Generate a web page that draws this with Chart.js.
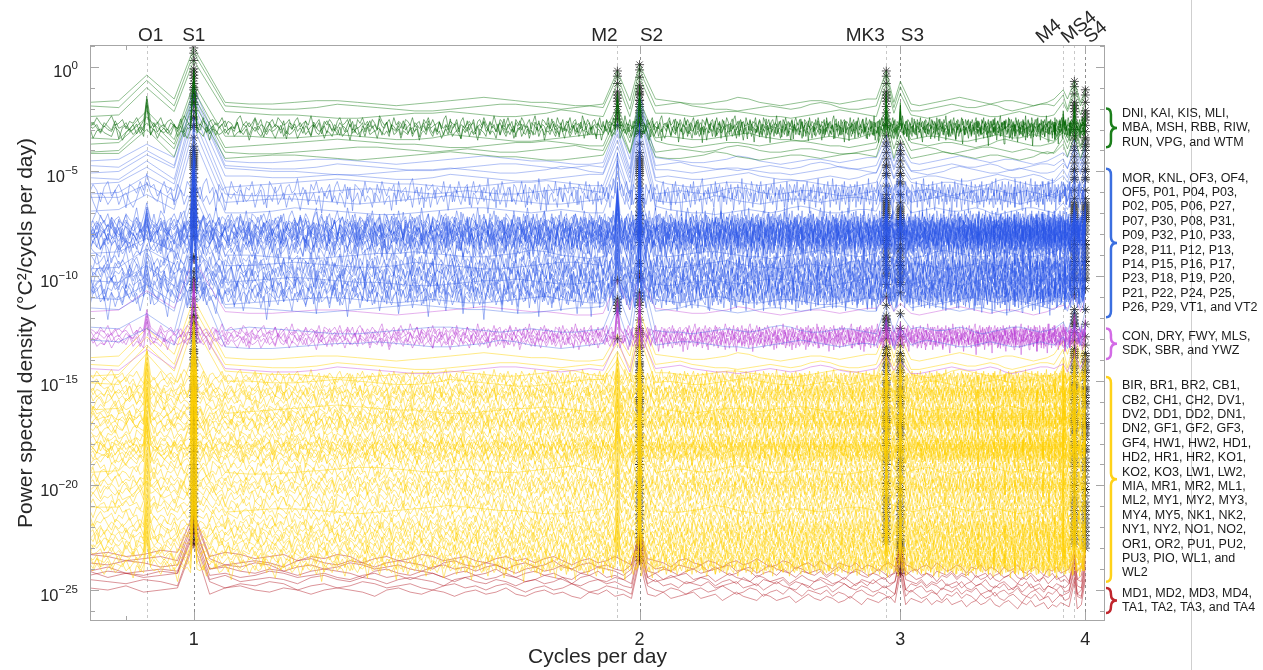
<!DOCTYPE html>
<html lang="en">
<head>
<meta charset="UTF-8">
<title>Power spectral density by station group</title>
<script src="https://cdn.jsdelivr.net/npm/chart.js"></script>
<style>
  html, body { margin: 0; padding: 0; background: #fff; }
  #wrap { width: 1263px; height: 670px; }
</style>
</head>
<body>
<div id="wrap"><canvas id="psdChart" width="1263" height="670"></canvas></div>
<script>
// Tidal constituents marked along the top (cycles per day)
const TIDE_NAMES = ['O1', 'S1', 'M2', 'S2', 'MK3', 'S3', 'M4', 'MS4', 'S4'];
const TIDE_FREQ = [0.9295, 1.0, 1.9323, 2.0, 2.9353, 3.0, 3.8645, 3.9323, 4.0];

const X_TICKS = [1, 2, 3, 4];
const Y_TICK_EXP = [0, -5, -10, -15, -20, -25];

// Station spectrum levels, log10 of PSD away from the peaks
const GREEN_SMOOTH = [-1.7, -1.95, -2.3, -3.4, -3.7, -4.0, -4.3];
const GREEN_NOISY = [-2.7, -2.85, -3.0, -3.15];
const BLUE_SMOOTH = [-4.5, -4.8, -5.0, -5.3, -5.6, -6.0, -6.4, -6.9, -9.0, -9.5, -10.3, -11.2, -11.6, -12.6, -13.3];
const BLUE_NOISY = [-5.9, -6.3, -7.3, -7.5, -7.6, -7.7, -7.8, -7.9, -8.0, -8.1, -8.2, -8.3, -8.4, -8.6, -8.8,
                    -9.3, -9.5, -9.7, -9.9, -10.1, -10.3, -10.5, -10.7, -10.9, -11.1];
const MAGENTA_SMOOTH = [-11.7, -14.5];
const MAGENTA_NOISY = [-12.6, -12.75, -12.9, -13.05, -13.2];
const YELLOW_SMOOTH = [-13.9, -14.3, -14.7, -15.1, -16.4, -19.3, -21.2];
const YELLOW_NOISY = [-14.8, -15.0, -15.3, -15.5, -15.6, -15.8, -16.0,
                      -16.3, -16.5, -16.7, -16.8, -17.0, -17.1, -17.3,
                      -17.6, -17.8, -18.0, -18.1, -18.2, -18.3, -18.5, -18.6, -18.8,
                      -19.1, -19.4, -19.7, -19.9, -20.1, -20.3, -20.6,
                      -20.9, -21.2, -21.5, -21.8, -22.0, -22.2, -22.4, -22.6,
                      -22.8, -23.0, -23.2, -23.4, -23.6, -23.8, -24.0];
const RED_LEVELS = [-23.3, -23.5, -23.7, -23.9, -24.1, -24.3, -24.6, -24.8];

// Peak height above the station level (decades) at each constituent; null = no peak
const GREEN_PEAKS = [1.3, 2.6, 1.5, 1.8, 1.5, 1.0, 0.6, 1.0, 0.6];
const BLUE_PEAKS = [0.8, 3.5, 1.8, 3.2, 1.2, 0.8, 0.4, 1.0, 1.0];
const MAGENTA_PEAKS = [1.0, 2.5, 1.5, 1.8, 0.7, 0.4, 0.3, 0.8, 0.6];
const YELLOW_PEAKS = [1.4, 2.8, 1.1, 2.2, 1.3, 1.0, 0.8, 1.2, 1.0];
const RED_PEAKS = [null, 2.0, null, 1.2, null, 0.6, null, 0.2, 0.3];

// Constituents flagged as significant (asterisks)
const GREEN_STARRED = ['S1', 'M2', 'S2', 'MK3', 'MS4', 'S4'];
const BLUE_STARRED = ['S1', 'S2', 'MK3', 'S3', 'MS4', 'S4'];
const MAGENTA_STARRED = ['S1', 'M2', 'S2', 'MK3', 'MS4'];
const YELLOW_STARRED = ['S1', 'S2', 'MK3', 'S3', 'MS4', 'S4'];
const RED_STARRED = ['S1', 'S2', 'S3'];

// Spectral wiggle around the level, tenths of a decade
const SMOOTH_A = [0,1,2,2,1,0,-1,-1,0,1, 1,0,-1,-2,-1,0,1,2,3,2, 1,0,0,-1,-2,-2,-1,0,1,1, 2,1,0,-1,-1,0,1,3,2,0,
  -1,-2,-1,0,1,1,0,-1,0,1, 2,2,1,0,-1,-1,-2,-1,0,1, 2,3,2,1,0,-1,0,1,1,0, -1,-2,-1,0,2,3,2,1,0,-1,
  -1,0,1,2,1,0,-1,-1,0,1, 2,1,0,-1,-2,-1,0,1,1,0];
const SMOOTH_B = [1,0,-1,-2,-1,0,1,1,0,0, 1,2,1,0,-1,-1,0,2,1,0, -1,-2,-2,-1,0,1,2,2,1,0, -1,0,1,0,-1,-1,0,1,2,3,
  1,0,-1,-1,-2,-1,0,1,0,-1, 0,2,3,2,0,-1,-1,0,1,1, 0,-1,-2,-2,-1,0,1,2,1,0, 0,1,2,1,-1,-2,-1,0,1,2,
  2,1,0,-1,0,1,0,-1,-2,-1, 0,1,2,1,0,-1,0,1,1,0];
const NOISE_A = [2,-1,3,0,-2,1,4,-1,0,2,-3,1,0,3,-1,-4,2,1,-2,0, 3,-2,1,2,-1,-3,0,4,1,-2,2,0,-1,3,-5,1,2,-1,0,3,
  -2,1,0,-3,2,4,-1,1,-2,0,3,-1,2,-4,1,0,2,-2,3,1, -1,0,2,-3,1,3,-2,0,1,-1,4,-2,0,2,-3,1,-1,2,0,-4,
  1,3,-1,0,2,-2,1,-5,2,0,3,-1,1,-2,2,0,-3,4,1,-1, 0,2,-2,3,-1,1,0,-3,2,1,-1,3,-2,0,1,-4,2,0,3,-1,
  2,-1,0,1,-3,2,4,-2,1,0,-1,2,-3,1,3,-2,0,1,-1,2, -4,1,2,-1,3,0,-2,1,-1,4,0,-3,2,1,-2,0,3,-1,1,-5,
  2,0,-1,3,1,-2,0,2,-3,1,4,-1,0,-2,2,1,-1,3,-3,0, 1,-2,3,0,-1,2,-4,1,0,3,-2,1,2,-1,0,-3,4,1,-1,2,
  0,-3,1,2,-1,0,3,-2,1,-4,2,0,1,-1,3,-2,0,2,-1,1, -2,4,0,-1,2,-3,1,0,2,-1,-5,3,1,0,-2,2,-1,1,3,-2,
  0,1,-3,2,4,-1,0,-2,1,3,-1,0,2,-4,1,-1,2,0,-2,3];
const NOISE_B = [-1,2,0,-4,1,3,-2,0,2,-1,-6,2,1,-1,3,0,-3,1,2,-2, 0,3,-1,1,-5,2,0,-2,3,1,-1,0,-3,2,4,-1,1,-7,2,0,
  1,-2,3,0,-1,2,-4,1,0,3,-2,-1,2,0,-6,3,1,-1,0,2, -3,1,2,-1,0,4,-2,1,-1,-5,2,0,3,-1,1,-2,0,2,-4,1,
  3,0,-1,2,-3,1,-7,2,1,0,-2,3,-1,1,0,-4,2,-1,3,0, -2,1,0,2,-5,3,-1,0,1,-3,2,4,-1,0,-2,1,-6,2,0,1,
  2,-3,1,0,-1,3,-2,0,2,-4,1,-1,3,0,-2,1,2,-5,0,3, -1,0,2,-3,1,-1,4,-2,0,1,-6,2,-1,3,0,-2,1,0,-4,2,
  1,-2,0,3,-1,2,-5,1,0,-1,2,-3,4,0,-2,1,-7,2,1,0, -1,3,-2,0,1,-4,2,0,-1,3,-2,1,0,-5,2,1,-1,0,3,-3,
  2,0,-1,1,-6,3,-1,2,0,-2,1,-3,2,0,4,-1,-4,1,0,2, -2,1,3,-1,0,-5,2,1,-2,0,3,-1,1,-6,2,0,-1,2,-3,1,
  0,2,-1,-4,1,3,-2,0,1,-1,-5,2,0,3,-2,1,-1,0,2,-3];
const NOISE_C = [1,0,-2,2,-1,3,-3,0,1,-1,2,4,-2,0,-1,1,-3,2,0,-2, 3,-1,0,2,-2,1,-4,0,3,1,-1,2,-3,0,1,-2,2,0,-1,4,
  -3,1,2,0,-1,-2,3,1,-4,0,2,-1,1,3,-2,0,-1,2,-3,1, 0,2,-1,4,-2,1,0,-3,2,-1,1,0,-2,3,-4,2,1,-1,0,2,
  -1,3,-2,0,1,-1,2,-4,1,3,0,-2,1,-1,2,0,-3,1,4,-2, 1,-1,0,2,-3,0,3,-1,1,-2,4,0,-1,2,-3,1,0,-2,2,-1,
  3,-2,0,1,-4,2,1,-1,0,2,-2,3,-1,0,1,-3,2,0,-1,1, -2,4,-1,0,2,-3,1,0,-1,3,-2,1,2,-4,0,1,-1,3,0,-2,
  2,-1,1,-3,0,2,-1,4,-2,0,1,-1,-3,2,0,3,-2,1,-1,0, -4,2,1,0,-2,3,-1,1,0,-3,2,-1,4,0,-2,1,-1,2,-3,0,
  1,3,-2,0,-1,2,-3,1,0,-1,3,-2,1,2,-4,0,1,-1,2,0, -2,1,-1,3,0,-3,2,1,-2,0,4,-1,1,-2,0,2,-3,1,0,-1,
  3,-1,0,-2,2,1,-4,0,1,2,-1,3,-2,0,-1,1,2,-3,0,1];
// Deeper records fall off towards the higher frequencies
const RED_A = [0,1,-1,0,2,1,0,-1,1,0, -2,-1,0,-3,-1,-2,0,-1,-4,-2, -1,-3,-2,0,-1,-3,-2,-1,-3,-4,
  -2,-1,-3,-2,-4,-2,-1,-3,-5,-3, -2,-4,-3,-1,-3,-5,-4,-2,-3,-4, -6,-3,-2,-4,-5,-3,-4,-6,-4,-3,
  -5,-4,-2,-4,-6,-5,-3,-4,-7,-5, -4,-6,-3,-5,-7,-4,-5,-6,-4,-7, -5,-6,-8,-5,-4,-6,-7,-5,-6,-8,
  -6,-5,-7,-4,-6,-8,-7,-5,-6,-9, -6,-7,-5,-8,-6,-7,-9,-6,-8,-7, -5,-8,-9,-7,-6,-8,-10,-7,-8,-6,
  -9,-8,-7,-10,-8,-6,-9,-8,-10,-7, -8,-9,-7,-10,-9,-8,-11,-9,-8,-10];
const RED_B = [1,0,0,2,1,-1,0,1,-1,-2, 0,-3,-2,-1,-2,-4,-1,0,-2,-3, -1,-2,-4,-2,-1,-2,-3,-5,-2,-1,
  -3,-4,-2,-3,-5,-3,-2,-4,-3,-1, -4,-5,-3,-2,-4,-3,-5,-6,-3,-4, -2,-5,-4,-6,-3,-4,-5,-3,-6,-5,
  -4,-3,-6,-5,-4,-7,-5,-3,-5,-6, -7,-4,-5,-7,-6,-5,-8,-6,-4,-6, -7,-5,-6,-8,-7,-5,-7,-9,-6,-7,
  -8,-6,-5,-8,-7,-9,-6,-7,-8,-6, -9,-7,-8,-6,-9,-8,-7,-10,-8,-7, -9,-8,-6,-9,-10,-8,-7,-9,-11,-8,
  -9,-7,-10,-9,-8,-11,-9,-10,-8,-9, -10,-8,-11,-9,-10,-12,-9,-10,-11,-9];

// Station lists for the bracketed groups
const GREEN_STATIONS = ['DNI, KAI, KIS, MLI,', 'MBA, MSH, RBB, RIW,', 'RUN, VPG, and WTM'];
const BLUE_STATIONS = ['MOR, KNL, OF3, OF4,', 'OF5, P01, P04, P03,', 'P02, P05, P06, P27,', 'P07, P30, P08, P31,',
  'P09, P32, P10, P33,', 'P28, P11, P12, P13,', 'P14, P15, P16, P17,', 'P23, P18, P19, P20,',
  'P21, P22, P24, P25,', 'P26, P29, VT1, and VT2'];
const MAGENTA_STATIONS = ['CON, DRY, FWY, MLS,', 'SDK, SBR, and YWZ'];
const YELLOW_STATIONS = ['BIR, BR1, BR2, CB1,', 'CB2, CH1, CH2, DV1,', 'DV2, DD1, DD2, DN1,', 'DN2, GF1, GF2, GF3,',
  'GF4, HW1, HW2, HD1,', 'HD2, HR1, HR2, KO1,', 'KO2, KO3, LW1, LW2,', 'MIA, MR1, MR2, ML1,',
  'ML2, MY1, MY2, MY3,', 'MY4, MY5, NK1, NK2,', 'NY1, NY2, NO1, NO2,', 'OR1, OR2, PU1, PU2,',
  'PU3, PIO, WL1, and', 'WL2'];
const RED_STATIONS = ['MD1, MD2, MD3, MD4,', 'TA1, TA2, TA3, and TA4'];

// Long records are sampled finely; join the wiggle tables end to end for them
const LONG_NOISE = [NOISE_A.concat(NOISE_B, NOISE_C), NOISE_C.concat(NOISE_A, NOISE_B), NOISE_B.concat(NOISE_C, NOISE_A)];

// Frequency sampling of the periodograms
function freqGrid(step, last) {
  const g = [];
  const n = Math.round((last - 0.85) / step);
  for (let k = 0; k <= n; k++) g.push(+(0.85 + k * step).toFixed(5));
  return g;
}
const FINE_GRID = freqGrid(0.005, 4.0);
const COARSE_GRID = freqGrid(0.04, 3.97);
const RED_GRID = freqGrid(0.025, 4.0);

function spectrum(level, tex, offset, gain, grid, half, peaks) {
  const pts = [];
  grid.forEach((f, i) => {
    const nearPeak = TIDE_FREQ.some((t, k) => peaks[k] != null && Math.abs(f - t) < half);
    if (nearPeak) return;
    const v = tex[(i + offset) % tex.length];
    pts.push({ x: f, y: Math.pow(10, level + gain * v / 10) });
  });
  TIDE_FREQ.forEach((t, k) => {
    if (peaks[k] != null) pts.push({ x: t, y: Math.pow(10, level + peaks[k]) });
  });
  return pts.sort((a, b) => a.x - b.x);
}

const datasets = [];
const stars = [];

function addLine(points, color, width) {
  datasets.push({ type: 'line', data: points, borderColor: color, borderWidth: width,
                  pointRadius: 0, tension: 0, fill: false });
}
function addStars(level, peaks, starred) {
  TIDE_NAMES.forEach((name, k) => {
    if (peaks[k] != null && starred.includes(name)) {
      stars.push({ x: TIDE_FREQ[k], y: Math.pow(10, level + peaks[k]) });
    }
  });
}
function addGroup(smooth, noisy, peaks, starred, smoothColor, noisyColor, gain, order) {
  smooth.forEach((lv, i) => {
    const tex = i % 2 ? SMOOTH_B : SMOOTH_A;
    addLine(spectrum(lv, tex, (i * 7) % 20, 0.8, COARSE_GRID, 0.025, peaks), smoothColor, 0.8);
    addStars(lv, peaks, starred);
  });
  noisy.forEach((lv, i) => {
    const tex = LONG_NOISE[order[i % order.length]];
    addLine(spectrum(lv, tex, (i * 13) % 140, gain, FINE_GRID, 0.004, peaks), noisyColor, 0.7);
    addStars(lv, peaks, starred);
  });
}

addGroup(GREEN_SMOOTH, GREEN_NOISY, GREEN_PEAKS, GREEN_STARRED,
         'rgba(25,125,25,0.6)', 'rgba(0,100,0,0.75)', 0.9, [0, 1]);
addGroup(BLUE_SMOOTH, BLUE_NOISY, BLUE_PEAKS, BLUE_STARRED,
         'rgba(60,100,230,0.5)', 'rgba(40,85,230,0.6)', 1.4, [2, 0, 1]);
addGroup(MAGENTA_SMOOTH, MAGENTA_NOISY, MAGENTA_PEAKS, MAGENTA_STARRED,
         'rgba(200,90,220,0.6)', 'rgba(185,60,210,0.65)', 0.8, [1, 0]);
addGroup(YELLOW_SMOOTH, YELLOW_NOISY, YELLOW_PEAKS, YELLOW_STARRED,
         'rgba(255,210,0,0.6)', 'rgba(255,208,0,0.7)', 0.85, [0, 1, 2]);
RED_LEVELS.forEach((lv, i) => {
  const tex = i % 2 ? RED_B : RED_A;
  addLine(spectrum(lv, tex, (i * 3) % 13, 1.0, RED_GRID, 0.014, RED_PEAKS), 'rgba(180,30,40,0.6)', 0.8);
  addStars(lv, RED_PEAKS, RED_STARRED);
});

datasets.push({ type: 'scatter', data: stars, pointStyle: 'star', pointRadius: 4.5,
                borderColor: 'rgba(25,25,25,0.75)', borderWidth: 1, backgroundColor: 'transparent' });

const FONT = '"Liberation Sans", Arial, Helvetica, sans-serif';
const INK = '#262626';

// Brackets on the right: [stations, colour, top exponent, bottom exponent]
const GROUPS = [
  [GREEN_STATIONS, '#1b7f1b', -1.99, -3.85],
  [BLUE_STATIONS, '#3b6fe0', -4.87, -11.97],
  [MAGENTA_STATIONS, '#d36be6', -12.5, -13.96],
  [YELLOW_STATIONS, '#ffd21a', -14.82, -24.6],
  [RED_STATIONS, '#c0262d', -24.9, -26.1]
];

function brace(ctx, x0, y0, y1, w) {
  const xm = x0 + w * 0.45, mid = (y0 + y1) / 2, r = 6;
  ctx.beginPath();
  ctx.moveTo(x0, y0);
  ctx.quadraticCurveTo(xm, y0, xm, y0 + r);
  ctx.lineTo(xm, mid - r);
  ctx.quadraticCurveTo(xm, mid, x0 + w, mid);
  ctx.quadraticCurveTo(xm, mid, xm, mid + r);
  ctx.lineTo(xm, y1 - r);
  ctx.quadraticCurveTo(xm, y1, x0, y1);
  ctx.stroke();
}

const decor = {
  id: 'decor',
  beforeDatasetsDraw(chart) {
    const { ctx, chartArea: a, scales: { x } } = chart;
    ctx.save();
    ctx.lineWidth = 1;
    ctx.setLineDash([3, 3]);
    TIDE_FREQ.forEach((f, k) => {
      const px = Math.round(x.getPixelForValue(f)) + 0.5;
      ctx.strokeStyle = TIDE_NAMES[k].startsWith('S') ? '#8d8d8d' : '#c8c8c8';
      ctx.beginPath();
      ctx.moveTo(px, a.top);
      ctx.lineTo(px, a.bottom);
      ctx.stroke();
    });
    ctx.restore();
  },
  afterDatasetsDraw(chart) {
    const { ctx, chartArea: a, scales: { x, y } } = chart;
    ctx.save();
    ctx.strokeStyle = '#a6a6a6';
    ctx.lineWidth = 1;
    ctx.strokeRect(a.left + 0.5, a.top + 0.5, a.right - a.left - 1, a.bottom - a.top - 1);
    ctx.beginPath();
    for (let e = -26; e <= 1; e++) {
      const py = Math.round(y.getPixelForValue(Math.pow(10, e))) + 0.5;
      const len = e % 5 === 0 ? 9 : 5;
      ctx.moveTo(a.left, py); ctx.lineTo(a.left + len, py);
      ctx.moveTo(a.right, py); ctx.lineTo(a.right - len, py);
    }
    [0.9].concat(X_TICKS).forEach(v => {
      const px = Math.round(x.getPixelForValue(v)) + 0.5;
      const len = X_TICKS.includes(v) ? 9 : 5;
      ctx.moveTo(px, a.bottom); ctx.lineTo(px, a.bottom - len);
      ctx.moveTo(px, a.top); ctx.lineTo(px, a.top + len);
    });
    ctx.stroke();
    ctx.restore();
  },
  afterDraw(chart) {
    const { ctx, chartArea: a, scales: { x, y } } = chart;
    ctx.save();
    ctx.fillStyle = INK;

    // y tick labels as powers of ten
    ctx.textBaseline = 'alphabetic';
    ctx.textAlign = 'left';
    Y_TICK_EXP.forEach(e => {
      const py = y.getPixelForValue(Math.pow(10, e));
      const ex = String(e).replace('-', '\u2212');
      ctx.font = '11.5px ' + FONT;
      const we = ctx.measureText(ex).width;
      ctx.font = '16.5px ' + FONT;
      const wb = ctx.measureText('10').width;
      const right = a.left - 12;
      ctx.fillText('10', right - we - wb, py + 10.5);
      ctx.font = '11.5px ' + FONT;
      ctx.fillText(ex, right - we, py + 2.5);
    });

    // constituent names above the frame
    const nudge = { O1: 4, S1: 0, M2: -13, S2: 12, MK3: -21, S3: 12 };
    const slanted = { M4: -21, MS4: -7, S4: 5 };
    ctx.font = '19px ' + FONT;
    TIDE_NAMES.forEach((name, k) => {
      const px = x.getPixelForValue(TIDE_FREQ[k]);
      if (name in nudge) {
        ctx.textAlign = 'center';
        ctx.fillText(name, px + nudge[name], 41);
      } else {
        ctx.save();
        ctx.translate(px + slanted[name], 44);
        ctx.rotate(-40 * Math.PI / 180);
        ctx.textAlign = 'left';
        ctx.fillText(name, 0, 0);
        ctx.restore();
      }
    });

    // thin divider right of the station lists
    ctx.strokeStyle = '#cfcfcf';
    ctx.lineWidth = 1;
    ctx.beginPath();
    ctx.moveTo(1191.5, 0);
    ctx.lineTo(1191.5, chart.height);
    ctx.stroke();

    // group brackets and station lists
    ctx.font = '12.5px ' + FONT;
    ctx.textAlign = 'left';
    ctx.textBaseline = 'middle';
    GROUPS.forEach(([names, color, eTop, eBot]) => {
      const y0 = y.getPixelForValue(Math.pow(10, eTop));
      const y1 = y.getPixelForValue(Math.pow(10, eBot));
      ctx.strokeStyle = color;
      ctx.lineWidth = 2.5;
      brace(ctx, a.right + 1, y0, y1, 11);
      const step = 14.4;
      const first = (y0 + y1) / 2 - (names.length - 1) * step / 2;
      ctx.fillStyle = '#1a1a1a';
      names.forEach((t, i) => ctx.fillText(t, 1122, first + i * step));
    });
    ctx.restore();
  }
};

Chart.defaults.font.family = FONT;
Chart.defaults.color = INK;

new Chart(document.getElementById('psdChart'), {
  data: { datasets },
  options: {
    responsive: false,
    animation: false,
    events: [],
    layout: { padding: { top: 45, right: 158, left: 0, bottom: 0 } },
    plugins: { legend: { display: false }, tooltip: { enabled: false } },
    scales: {
      x: {
        type: 'logarithmic', bounds: 'data', min: 0.851, max: 4.124,
        grid: { display: false, drawTicks: false }, border: { display: false },
        afterBuildTicks: s => { s.ticks = X_TICKS.map(v => ({ value: v })); },
        afterFit: s => { s.height = 49; },
        ticks: { autoSkip: false, maxRotation: 0, padding: 8, font: { size: 18 }, color: INK,
                 callback: v => String(v) },
        title: { display: true, text: 'Cycles per day', font: { size: 21 }, color: INK,
                 padding: { top: 0, bottom: 0 } }
      },
      y: {
        type: 'logarithmic', bounds: 'data', min: Math.pow(10, -26.48), max: Math.pow(10, 1.04),
        grid: { display: false, drawTicks: false }, border: { display: false },
        afterBuildTicks: s => { s.ticks = Y_TICK_EXP.map(e => ({ value: Math.pow(10, e) })); },
        afterFit: s => { s.width = 90; },
        ticks: { display: false },
        title: { display: true, text: 'Power spectral density (°C²/cycls per day)', font: { size: 21 },
                 color: INK, padding: { top: 14, bottom: 0 } }
      }
    }
  },
  plugins: [decor]
});
</script>
</body>
</html>
